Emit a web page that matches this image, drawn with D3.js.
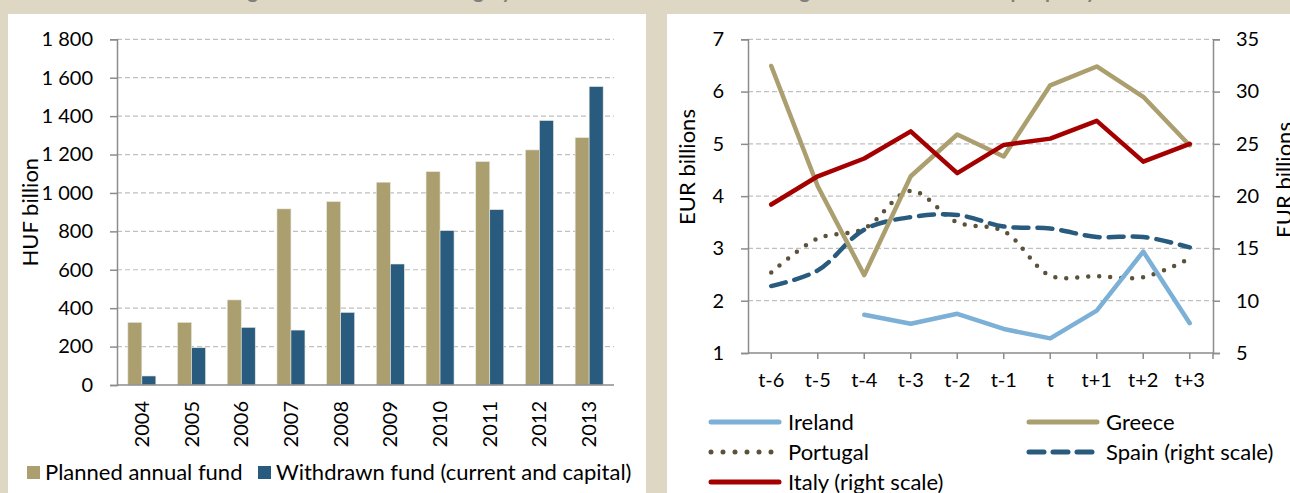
<!DOCTYPE html>
<html>
<head>
<meta charset="utf-8">
<script src="https://cdn.jsdelivr.net/npm/d3@7"></script>
<style>
  html, body { margin: 0; padding: 0; background: #ddd7c3; }
  svg { display: block; font-family: Lato, "Open Sans", sans-serif; }
</style>
</head>
<body>
<div id="chart"></div>
<script>
// left panel: bar chart
const years = ["2004", "2005", "2006", "2007", "2008", "2009", "2010", "2011", "2012", "2013"];
const planned = [326, 326, 443, 917, 955, 1056, 1111, 1163, 1224, 1288];
const withdrawn = [47, 194, 300, 286, 378, 630, 804, 913, 1377, 1554];
const leftTicks = [0, 200, 400, 600, 800, 1000, 1200, 1400, 1600, 1800];

// right panel: line chart
const periods = ["t-6", "t-5", "t-4", "t-3", "t-2", "t-1", "t", "t+1", "t+2", "t+3"];
const ireland = [null, null, 1.73, 1.56, 1.75, 1.46, 1.28, 1.81, 2.94, 1.57];
const greece = [6.49, 4.19, 2.49, 4.38, 5.18, 4.76, 6.12, 6.48, 5.9, 4.97];
const portugal = [2.54, 3.19, 3.38, 4.1, 3.5, 3.33, 2.48, 2.47, 2.45, 2.81];
const spain = [11.4, 12.9, 16.8, 18.0, 18.2, 17.1, 16.9, 16.1, 16.1, 15.1];   // right scale
const italy = [19.2, 21.9, 23.6, 26.2, 22.2, 24.9, 25.5, 27.2, 23.3, 25.0];  // right scale
const rightTicksL = [1, 2, 3, 4, 5, 6, 7];
const rightTicksR = [5, 10, 15, 20, 25, 30, 35];

const W = 1290, H = 493;
const cTan = "#ab9f6f", cBlue = "#285b7e", cRed = "#a50000", cLight = "#7cb0d6", cDots = "#5c5239";
const gridCol = "#c0c0c0", axisCol = "#8c8c8c";
const numSize = "20px", wordSize = "22px";

const svg = d3.select("#chart").append("svg")
    .attr("width", W).attr("height", H);

svg.append("rect").attr("width", W).attr("height", H).attr("fill", "#ddd7c3");

// title, cut off at the top edge like in the source
const title = svg.append("text")
    .attr("y", -2)
    .attr("fill", "#7f7f7f")
    .style("font-size", "20px")
    .style("font-weight", "bold");
title.append("tspan").attr("x", 512).attr("text-anchor", "end").text("Local government funds in Hungary");
title.append("tspan").attr("x", 810).attr("text-anchor", "end").text("and the total EU funding");
title.append("tspan").attr("x", 955).text("in the periphery countries");

// white panels
svg.append("rect").attr("x", 8).attr("y", 14).attr("width", 638).attr("height", H - 14).attr("fill", "#fff");
svg.append("rect").attr("x", 667).attr("y", 14).attr("width", W - 667).attr("height", H - 14).attr("fill", "#fff");

// ---------- left chart ----------
const L = {x0: 117, x1: 614, y0: 39.3, y1: 385};
const xb = d3.scaleBand().domain(years).range([L.x0, L.x1]);
const yb = d3.scaleLinear().domain([0, 1800]).range([L.y1, L.y0]);
const sub = d3.scaleBand().domain(["p", "w"])
    .range([xb.bandwidth() / 2 - 14, xb.bandwidth() / 2 + 14]);

const gl = svg.append("g");

gl.append("g").selectAll("line")
    .data(leftTicks.filter(d => d > 0))
    .join("line")
    .attr("x1", L.x0).attr("x2", L.x1)
    .attr("y1", d => yb(d)).attr("y2", d => yb(d))
    .attr("stroke", gridCol).attr("stroke-width", 1.2)
    .attr("stroke-dasharray", "5,3");

const barData = [];
years.forEach((y, i) => {
    barData.push({year: y, key: "p", value: planned[i]});
    barData.push({year: y, key: "w", value: withdrawn[i]});
});

gl.append("g").selectAll("rect")
    .data(barData)
    .join("rect")
    .attr("x", d => xb(d.year) + sub(d.key))
    .attr("width", sub.bandwidth())
    .attr("y", d => yb(d.value))
    .attr("height", d => yb(0) - yb(d.value))
    .attr("fill", d => d.key === "p" ? cTan : cBlue)
    .attr("stroke", "#e8e8e0").attr("stroke-width", 0.6);

const yAxisL = gl.append("g")
    .attr("transform", `translate(${L.x0},0)`)
    .call(d3.axisLeft(yb).tickValues(leftTicks).tickSize(7).tickPadding(17)
        .tickFormat(d => d3.format(",")(d).replace(",", " ")));
yAxisL.select(".domain").attr("stroke", axisCol).attr("stroke-width", 1.5);
yAxisL.selectAll(".tick line").attr("stroke", axisCol).attr("stroke-width", 1.5);
yAxisL.selectAll("text").style("font-size", numSize).attr("fill", "#000")
    .style("font-family", "Lato, sans-serif");

gl.append("line")
    .attr("x1", L.x0).attr("x2", L.x1).attr("y1", L.y1).attr("y2", L.y1)
    .attr("stroke", axisCol).attr("stroke-width", 1.5);

gl.append("g").selectAll("text")
    .data(years)
    .join("text")
    .attr("transform", d => `translate(${xb(d) + xb.bandwidth() / 2 + 7},401) rotate(-90)`)
    .attr("text-anchor", "end")
    .style("font-size", numSize)
    .text(d => d);

gl.append("text")
    .attr("transform", `translate(38,${(L.y0 + L.y1) / 2}) rotate(-90)`)
    .attr("text-anchor", "middle")
    .style("font-size", wordSize)
    .text("HUF billion");

// legend
const legL = gl.append("g");
[["Planned annual fund", cTan, 27], ["Withdrawn fund (current and capital)", cBlue, 258]].forEach(([t, c, x]) => {
    legL.append("rect").attr("x", x).attr("y", 466).attr("width", 13).attr("height", 13).attr("fill", c);
    legL.append("text").attr("x", x + 18).attr("y", 480).style("font-size", wordSize).text(t);
});

// ---------- right chart ----------
const R = {x0: 748, x1: 1213, y0: 39.3, y1: 353};
const xr = d3.scaleBand().domain(periods).range([R.x0, R.x1]);
const cx = p => xr(p) + xr.bandwidth() / 2;
const yl = d3.scaleLinear().domain([1, 7]).range([R.y1, R.y0]);
const yr = d3.scaleLinear().domain([5, 35]).range([R.y1, R.y0]);

const gr = svg.append("g");

gr.append("g").selectAll("line")
    .data(rightTicksL.filter(d => d > 1))
    .join("line")
    .attr("x1", R.x0).attr("x2", R.x1)
    .attr("y1", d => yl(d)).attr("y2", d => yl(d))
    .attr("stroke", gridCol).attr("stroke-width", 1.2)
    .attr("stroke-dasharray", "5,3");

const axL = gr.append("g").attr("transform", `translate(${R.x0},0)`)
    .call(d3.axisLeft(yl).tickValues(rightTicksL).tickSize(7).tickPadding(17).tickFormat(d3.format("d")));
const axR = gr.append("g").attr("transform", `translate(${R.x1},0)`)
    .call(d3.axisRight(yr).tickValues(rightTicksR).tickSize(7).tickPadding(16).tickFormat(d3.format("d")));
const axB = gr.append("g").attr("transform", `translate(0,${R.y1})`)
    .call(d3.axisBottom(xr).tickSize(6).tickPadding(14));
[axL, axR, axB].forEach(a => {
    a.select(".domain").attr("stroke", axisCol).attr("stroke-width", 1.5);
    a.selectAll(".tick line").attr("stroke", axisCol).attr("stroke-width", 1.5);
    a.selectAll("text").style("font-size", numSize).attr("fill", "#000")
        .style("font-family", "Lato, sans-serif");
});
axB.select(".domain").attr("d", `M${R.x0},0H${R.x1}V6`);

gr.append("text")
    .attr("transform", `translate(695,167) rotate(-90)`)
    .attr("text-anchor", "middle")
    .style("font-size", wordSize)
    .text("EUR billions");
gr.append("text")
    .attr("transform", `translate(1292,180) rotate(-90)`)
    .attr("text-anchor", "middle")
    .style("font-size", wordSize)
    .text("EUR billions");

const series = [
    {name: "Portugal", vals: portugal, y: yl, color: cDots, dash: "0,11", curve: d3.curveCatmullRom, width: 4.5},
    {name: "Spain (right scale)", vals: spain, y: yr, color: cBlue, dash: "15,9", curve: d3.curveCatmullRom, width: 4.5},
    {name: "Ireland", vals: ireland, y: yl, color: cLight, dash: null, curve: d3.curveLinear, width: 4.5},
    {name: "Greece", vals: greece, y: yl, color: cTan, dash: null, curve: d3.curveLinear, width: 4.5},
    {name: "Italy (right scale)", vals: italy, y: yr, color: cRed, dash: null, curve: d3.curveLinear, width: 4.5}
];

series.forEach(s => {
    const line = d3.line()
        .defined(d => d.v != null)
        .x(d => cx(d.p))
        .y(d => s.y(d.v))
        .curve(s.curve);
    gr.append("path")
        .datum(periods.map((p, i) => ({p, v: s.vals[i]})))
        .attr("d", line)
        .attr("fill", "none")
        .attr("stroke", s.color)
        .attr("stroke-width", s.width)
        .attr("stroke-linecap", "round")
        .attr("stroke-linejoin", "round")
        .attr("stroke-dasharray", s.dash);
});

// legend, two columns
const legR = [
    {s: "Ireland", x: 711, y: 422},
    {s: "Greece", x: 1029, y: 422},
    {s: "Portugal", x: 711, y: 452},
    {s: "Spain (right scale)", x: 1029, y: 452},
    {s: "Italy (right scale)", x: 711, y: 482}
];
legR.forEach(l => {
    const s = series.find(d => d.name === l.s);
    gr.append("line")
        .attr("x1", l.x).attr("x2", l.x + 68).attr("y1", l.y).attr("y2", l.y)
        .attr("stroke", s.color).attr("stroke-width", 5)
        .attr("stroke-linecap", "round")
        .attr("stroke-dasharray", s.dash === "0,11" ? "0,12" : s.dash);
    gr.append("text")
        .attr("x", l.x + 77).attr("y", l.y + 8)
        .style("font-size", wordSize)
        .text(l.s);
});
</script>
</body>
</html>
